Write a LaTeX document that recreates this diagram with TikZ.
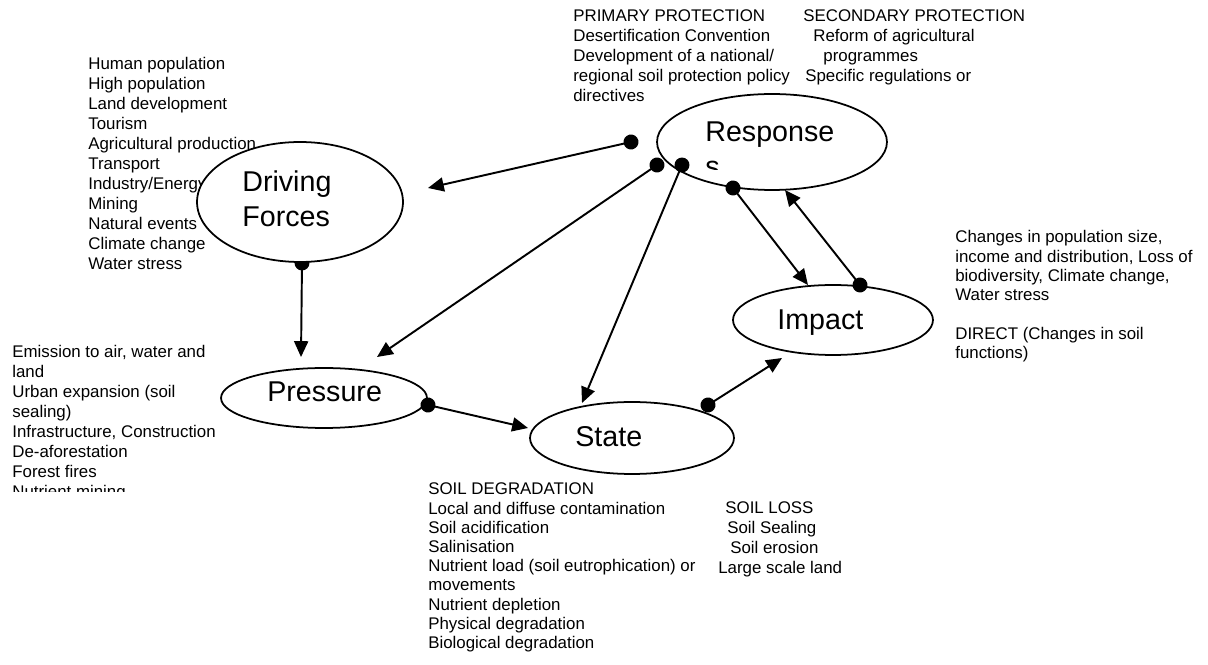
\documentclass[tikz,border=0pt]{standalone}
\usepackage{fontspec}
\setmainfont{Liberation Sans}
\usetikzlibrary{arrows.meta,shapes.geometric,backgrounds}

\newcommand{\txtlines}[1]{\begin{tabular}[t]{@{}l@{}}#1\end{tabular}}

\tikzset{
    blob/.style={ellipse, draw, line width=1pt, fill=white, inner sep=0pt},
    lst/.style={anchor=base west, inner sep=0pt, font={\fontsize{9.6}{#1}\selectfont}},
    lst/.default=11.38,
    lbl/.style={anchor=base west, inner sep=0pt, font={\fontsize{16.3}{19.9}\selectfont}},
    link/.style={line width=1.1pt, {Circle[length=8.5pt]}-{Triangle[length=9pt,width=8pt]},
                 shorten <=-4.25pt}
}

\begin{document}
\begin{tikzpicture}[x=0.02cm, y=-0.02cm]
    \useasboundingbox (0,0) rectangle (1208,665);

    % lists of indicators
    \node[lst] (dflist) at (88,70) {\txtlines{Human population\\High population\\Land development\\
        Tourism\\Agricultural production\\Transport\\Industry/Energy\\Mining\\Natural events\\
        Climate change\\Water stress}};
    \node[lst] (primary) at (573,22) {\txtlines{PRIMARY PROTECTION\\Desertification Convention\\
        Development of a national/\\regional soil protection policy\\directives}};
    \node[lst] (secondary) at (803,22) {\txtlines{SECONDARY PROTECTION\\
        \hspace{5.7pt}Reform of agricultural\\\hspace{11.4pt}programmes\\
        \hspace{1.1pt}Specific regulations or}};
    \begin{scope}
        \clip (0,340) rectangle (250,492);
        \node[lst] (preslist) at (12,358) {\txtlines{Emission to air, water and\\land\\
            Urban expansion (soil\\sealing)\\Infrastructure, Construction\\De-aforestation\\
            Forest fires\\Nutrient mining}};
    \end{scope}
    \node[lst=10.92] (degrad) at (428,495) {\txtlines{SOIL DEGRADATION\\
        Local and diffuse contamination\\Soil acidification\\Salinisation\\
        Nutrient load (soil eutrophication) or\\movements\\Nutrient depletion\\
        Physical degradation\\Biological degradation}};
    \node[lst=11.2] (loss) at (718,514) {\txtlines{\hspace{4pt}SOIL LOSS\\
        \hspace{5.1pt}Soil Sealing\\\hspace{6.8pt}Soil erosion\\Large scale land}};
    \node[lst=10.98] (implist) at (955,243) {\txtlines{Changes in population size,\\
        income and distribution, Loss of\\biodiversity, Climate change,\\Water stress\\ \\
        DIRECT (Changes in soil\\functions)}};

    % the five stages
    \node[blob, minimum width=4.12cm, minimum height=2.4cm] (df) at (300,202) {};
    \node[blob, minimum width=4.6cm, minimum height=1.92cm] (resp) at (772,142) {};
    \node[blob, minimum width=4cm, minimum height=1.4cm] (imp) at (833,320) {};
    \node[blob, minimum width=4.12cm, minimum height=1.2cm] (pres) at (324,398) {};
    \node[blob, minimum width=4.08cm, minimum height=1.44cm] (state) at (632,438) {};

    \node[lbl] (dftext) at (242,192) {\txtlines{Driving\\Forces}};
    \node[lbl] (resptext) at (705,142) {Response};
    \begin{scope}
        \clip (690,150) rectangle (740,170);
        \node[lbl] (resptail) at (705,177) {s};
    \end{scope}
    \node[lbl] (imptext) at (777,330) {Impact};
    \node[lbl] (prestext) at (267,402) {Pressure};
    \node[lbl] (statetext) at (575,447) {State};

    % ends of the links
    \coordinate (resp-a) at (631,142);
    \coordinate (resp-b) at (657,165);
    \coordinate (resp-c) at (682,165);
    \coordinate (resp-d) at (733,188);
    \coordinate (imp-a) at (860,285);
    \coordinate (df-a) at (302,263);
    \coordinate (pres-a) at (428,405);
    \coordinate (state-a) at (708,405);
    \coordinate (df-in) at (428,188);
    \coordinate (pres-in1) at (301,357);
    \coordinate (pres-in2) at (377,357);
    \coordinate (state-in1) at (582,403);
    \coordinate (state-in2) at (528,428);
    \coordinate (imp-in1) at (808,285);
    \coordinate (imp-in2) at (782,358);
    \coordinate (resp-in) at (785,190);

    \begin{scope}[on background layer]
        \draw[link] (df-a) -- (pres-in1);
    \end{scope}
    \draw[link] (resp-a) -- (df-in);
    \draw[link] (resp-b) -- (pres-in2);
    \draw[link] (resp-c) -- (state-in1);
    \draw[link] (resp-d) -- (imp-in1);
    \draw[link] (imp-a) -- (resp-in);
    \draw[link] (pres-a) -- (state-in2);
    \draw[link] (state-a) -- (imp-in2);
\end{tikzpicture}
\end{document}
